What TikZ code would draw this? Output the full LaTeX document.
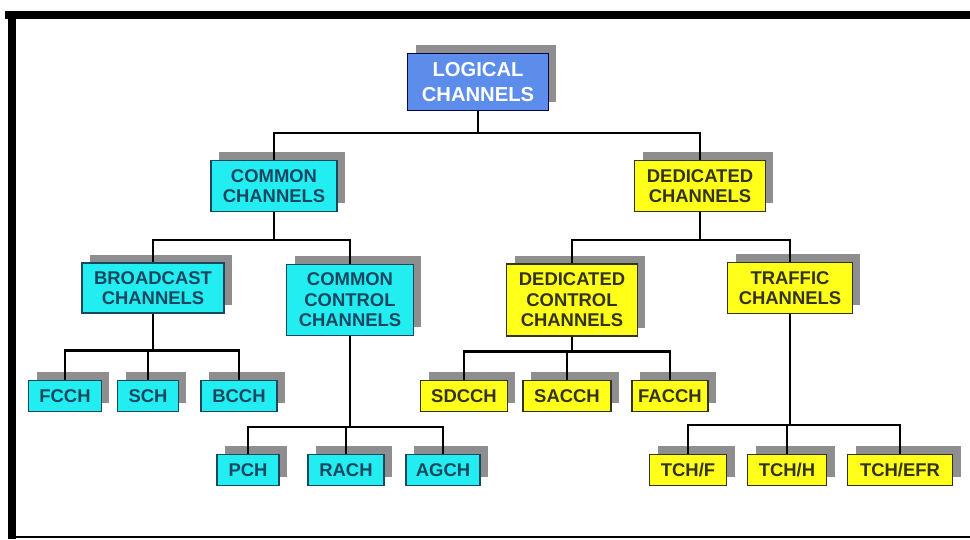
\documentclass[tikz,border=0pt]{standalone}
\usepackage{fontspec}
\newfontfamily\boxfont{Liberation Sans}
\usetikzlibrary{shadows}

\definecolor{topblue}{HTML}{5C8DEB}
\definecolor{chcyan}{HTML}{22EEF2}
\definecolor{chyellow}{HTML}{FFFF1A}
\definecolor{shgray}{HTML}{8E8E8E}
\definecolor{cyantext}{HTML}{1A4660}
\definecolor{yellowtext}{HTML}{33331A}

\tikzset{
  chbox/.style={draw, line width=0.6pt, align=center, inner sep=0pt,
    font=\boxfont\bfseries\fontsize{10.5}{11.6}\selectfont,
    drop shadow={shadow xshift=0.16cm, shadow yshift=0.17cm,
      fill=shgray, opacity=1}},
  topbox/.style={chbox, fill=topblue, draw=black!70!blue, text=white,
    font=\boxfont\bfseries\fontsize{11.5}{14}\selectfont},
  cbox/.style={chbox, fill=chcyan, draw=cyantext, text=cyantext},
  ybox/.style={chbox, fill=chyellow, draw=yellowtext, text=yellowtext},
  conn/.style={line width=1.3pt}
}

\begin{document}
\begin{tikzpicture}[x=0.02cm, y=-0.02cm]
\useasboundingbox (0, 0) rectangle (970, 539);

%% frame
\draw[line width=8*0.02cm] (5, 15) -- (970, 15);
\draw[line width=8*0.02cm] (12, 11) -- (12, 539);
\draw[line width=1pt] (8, 537) -- (970, 537);

%% level 0 and 1
\node[topbox, minimum width=2.82cm, minimum height=1.14cm] (log) at (478, 82) {LOGICAL\\CHANNELS};
\node[cbox, minimum width=2.52cm, minimum height=1.02cm] (com) at (274, 186) {COMMON\\CHANNELS};
\node[ybox, minimum width=2.62cm, minimum height=1.02cm] (ded) at (700, 186) {DEDICATED\\CHANNELS};

%% level 2
\node[cbox, minimum width=2.84cm, minimum height=1.0cm] (bro) at (153, 288) {BROADCAST\\CHANNELS};
\node[cbox, minimum width=2.54cm, minimum height=1.42cm] (ccc) at (350, 300) {COMMON\\CONTROL\\CHANNELS};
\node[ybox, minimum width=2.62cm, minimum height=1.44cm] (dcc) at (572, 300) {DEDICATED\\CONTROL\\CHANNELS};
\node[ybox, minimum width=2.5cm, minimum height=1.02cm] (tra) at (790, 288) {TRAFFIC\\CHANNELS};

%% level 3
\node[cbox, minimum width=1.46cm, minimum height=0.62cm] (fcch) at (65, 396) {FCCH};
\node[cbox, minimum width=1.22cm, minimum height=0.62cm] (sch) at (148, 396) {SCH};
\node[cbox, minimum width=1.52cm, minimum height=0.62cm] (bcch) at (239, 396) {BCCH};
\node[cbox, minimum width=1.24cm, minimum height=0.62cm] (pch) at (248, 470) {PCH};
\node[cbox, minimum width=1.52cm, minimum height=0.62cm] (rach) at (346, 470) {RACH};
\node[cbox, minimum width=1.48cm, minimum height=0.62cm] (agch) at (443, 470) {AGCH};
\node[ybox, minimum width=1.74cm, minimum height=0.62cm] (sdcch) at (464, 396) {SDCCH};
\node[ybox, minimum width=1.76cm, minimum height=0.62cm] (sacch) at (567, 396) {SACCH};
\node[ybox, minimum width=1.52cm, minimum height=0.62cm] (facch) at (670, 396) {FACCH};
\node[ybox, minimum width=1.54cm, minimum height=0.62cm] (tchf) at (688, 470) {TCH/F};
\node[ybox, minimum width=1.58cm, minimum height=0.62cm] (tchh) at (787, 470) {TCH/H};
\node[ybox, minimum width=2.1cm, minimum height=0.62cm] (tchefr) at (900, 470) {TCH/EFR};

%% connectors
\draw[conn] (log.south) -- ++(0, 22) -| (com.north);
\draw[conn] (log.south) -- ++(0, 22) -| (ded.north);
\draw[conn] (com.south) -- ++(0, 28) -| (bro.north);
\draw[conn] (com.south) -- ++(0, 28) -| (ccc.north);
\draw[conn] (ded.south) -- ++(0, 28) -| (dcc.north);
\draw[conn] (ded.south) -- ++(0, 28) -| (tra.north);
\foreach \c in {fcch, sch, bcch}
  \draw[conn] (bro.south) -- ++(0, 37) -| (\c.north);
\foreach \c in {pch, rach, agch}
  \draw[conn] (ccc.south) -- ++(0, 91) -| (\c.north);
\foreach \c in {sdcch, sacch, facch}
  \draw[conn] (dcc.south) -- ++(0, 15) -| (\c.north);
\foreach \c in {tchf, tchh, tchefr}
  \draw[conn] (tra.south) -- ++(0, 111) -| (\c.north);
\end{tikzpicture}
\end{document}
